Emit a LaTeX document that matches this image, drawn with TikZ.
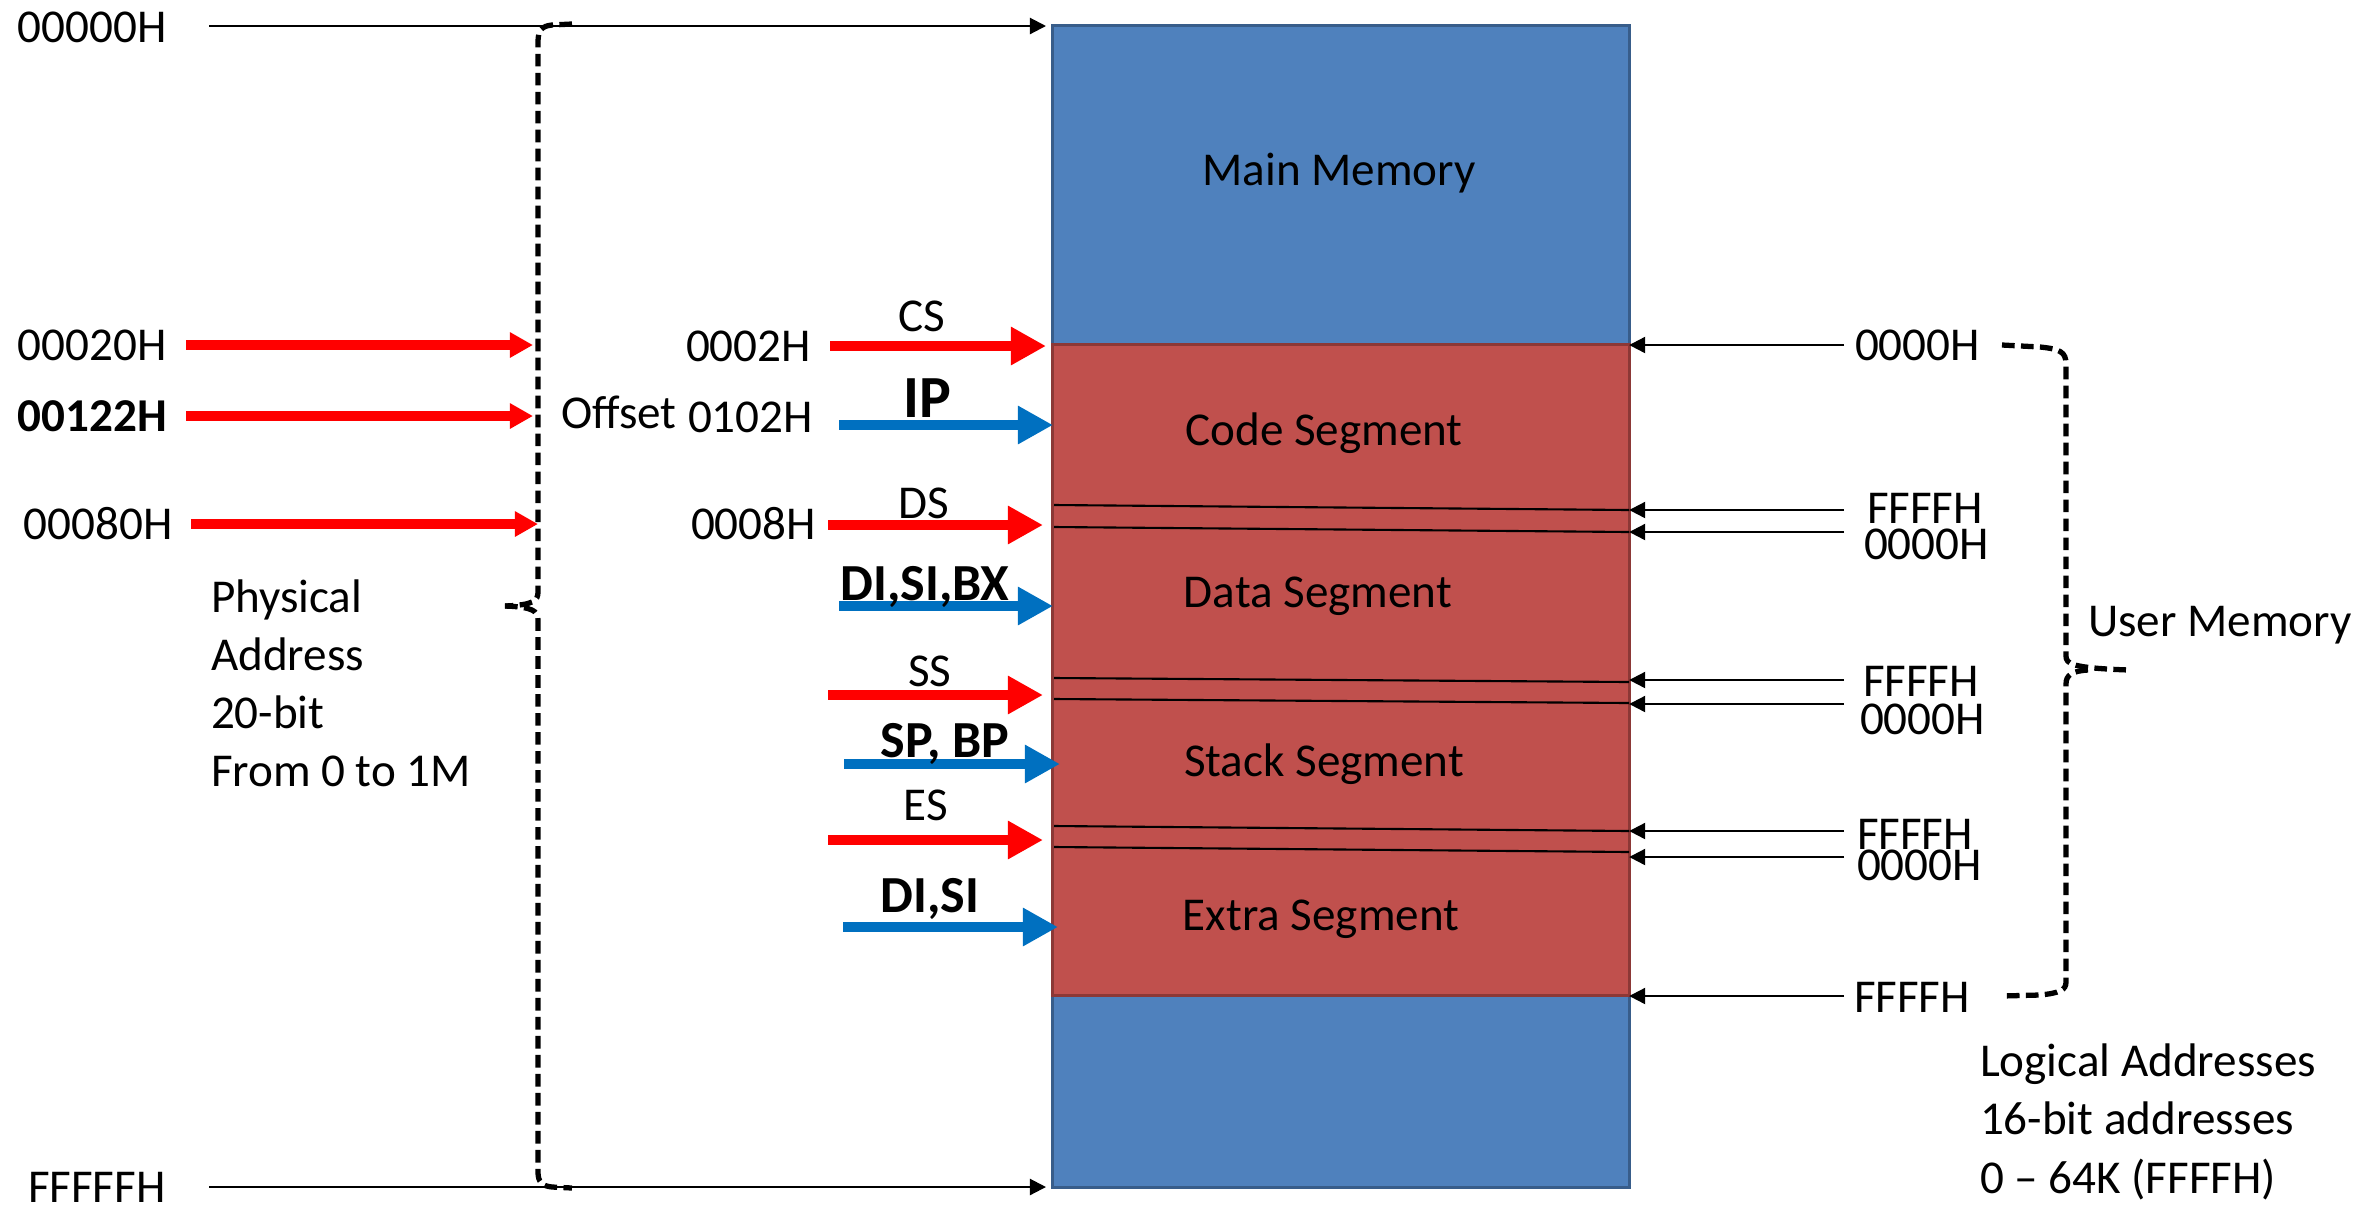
\documentclass[tikz,border=0pt]{standalone}
\usepackage{fontspec}
\setmainfont{Carlito}
\usetikzlibrary{arrows.meta}
\definecolor{memblue}{HTML}{4F81BD}
\definecolor{memblueline}{HTML}{385D8A}
\definecolor{segred}{HTML}{C0504D}
\definecolor{segredline}{HTML}{8C3836}
\definecolor{regred}{HTML}{FF0000}
\definecolor{regblue}{HTML}{0070C0}
\begin{document}
\begin{tikzpicture}[x=0.01cm,y=-0.01cm,
  txt/.style={font=\fontsize{13.4pt}{16.4pt}\selectfont, inner sep=0pt, outer sep=0pt},
  btxt/.style={font=\fontsize{14.8pt}{17pt}\selectfont\bfseries, inner sep=0pt, outer sep=0pt},
  iptxt/.style={font=\fontsize{17pt}{19pt}\selectfont\bfseries, inner sep=0pt, outer sep=0pt},
  memblock/.style={rectangle, inner sep=0pt, outer sep=0pt, line width=0.9pt, minimum width=5.76cm},
  thinarrow/.style={line width=0.6pt, -{Triangle[length=1.6mm,width=1.6mm]}},
  addrarrow/.style={line width=2.7pt, -{Triangle[length=2.3mm,width=2.4mm]}},
  regarrow/.style={line width=3.1pt, -{Triangle[length=3.5mm,width=3.6mm]}},
  bracestyle/.style={line width=1.5pt, dash pattern=on 3.6pt off 1.8pt},
  sepline/.style={line width=0.6pt}
]
\useasboundingbox (0,0) rectangle (2365,1205);

% memory column and the user segment area
\node[memblock, fill=memblue, draw=memblueline, minimum height=11.61cm] (mem) at (1341,606.5) {};
\node[memblock, fill=segred, draw=segredline, minimum height=6.5cm] (seg) at (1341,670) {};

% boundaries between the segments
\draw[sepline] (1054,505) -- (1629,510);
\draw[sepline] (1054,527) -- (1629,532);
\draw[sepline] (1054,678) -- (1629,682);
\draw[sepline] (1054,699) -- (1629,703);
\draw[sepline] (1054,826) -- (1629,831);
\draw[sepline] (1054,847) -- (1629,852);

% segment names
\node[txt, anchor=base] (mainmem) at (1339,185) {Main Memory};
\node[txt, anchor=base] (codeseg) at (1324,445) {Code Segment};
\node[txt, anchor=base] (dataseg) at (1318,607) {Data Segment};
\node[txt, anchor=base] (stackseg) at (1324,776) {Stack Segment};
\node[txt, anchor=base] (extraseg) at (1321,930) {Extra Segment};

% physical addresses on the left
\node[txt, anchor=base west] (p0) at (18,42) {00000H};
\node[txt, anchor=base west] (p20) at (18,360) {00020H};
\node[txt, anchor=base west, font=\fontsize{13.4pt}{16.4pt}\selectfont\bfseries] (p122) at (18,431) {00122H};
\node[txt, anchor=base west] (p80) at (24,539) {00080H};
\node[txt, anchor=base west] (pf) at (28,1202) {FFFFFH};
% multi-line node: base anchor sits on the last line
\node[txt, anchor=base west, align=left] (phys) at (211,786) {Physical\\Address\\20-bit\\From 0 to 1M};

\coordinate (top0) at (209,26);
\coordinate (top1) at (1046,26);
\coordinate (bot0) at (209,1187);
\coordinate (bot1) at (1046,1187);
\draw[thinarrow] (top0) -- (top1);
\draw[thinarrow] (bot0) -- (bot1);

\coordinate (a20s) at (186,345);  \coordinate (a20e) at (533,345);
\coordinate (a122s) at (186,416); \coordinate (a122e) at (533,416);
\coordinate (a80s) at (191,524);  \coordinate (a80e) at (538,524);
\draw[addrarrow, regred] (a20s) -- (a20e);
\draw[addrarrow, regred] (a122s) -- (a122e);
\draw[addrarrow, regred] (a80s) -- (a80e);

% brace spanning the whole physical range
\coordinate (lbtip) at (505,606);
\draw[bracestyle] (572,24) -- (552,25) .. controls (542,26) and (538,30) .. (538,42)
  -- (538,592) .. controls (538,601) and (533,605) .. (lbtip);
\draw[bracestyle] (lbtip) .. controls (533,607) and (538,611) .. (538,620)
  -- (538,1172) .. controls (538,1182) and (542,1186) .. (552,1187) -- (572,1188);

% segment and offset values
\node[txt, anchor=base west] (cs0) at (686,361) {0002H};
\node[txt, anchor=base west] (offs) at (561,428) {Offset};
\node[txt, anchor=base west] (ip0) at (688,432) {0102H};
\node[txt, anchor=base west] (ds0) at (691,539) {0008H};

% segment registers (red) and offset registers (blue)
\coordinate (csS) at (830,346); \coordinate (csE) at (1046,346);
\coordinate (ipS) at (839,425); \coordinate (ipE) at (1053,425);
\coordinate (dsS) at (828,525); \coordinate (dsE) at (1043,525);
\coordinate (dxS) at (839,606); \coordinate (dxE) at (1053,606);
\coordinate (ssS) at (828,695); \coordinate (ssE) at (1043,695);
\coordinate (spS) at (844,764); \coordinate (spE) at (1060,764);
\coordinate (esS) at (828,840); \coordinate (esE) at (1043,840);
\coordinate (diS) at (843,927); \coordinate (diE) at (1058,927);
\draw[regarrow, regred] (csS) -- (csE);
\draw[regarrow, regblue] (ipS) -- (ipE);
\draw[regarrow, regred] (dsS) -- (dsE);
\draw[regarrow, regblue] (dxS) -- (dxE);
\draw[regarrow, regred] (ssS) -- (ssE);
\draw[regarrow, regblue] (spS) -- (spE);
\draw[regarrow, regred] (esS) -- (esE);
\draw[regarrow, regblue] (diS) -- (diE);

\node[txt, anchor=base] (csl) at (922,331) {CS};
\node[iptxt, anchor=base] (ipl) at (927,417) {IP};
\node[txt, anchor=base] (dsl) at (924,518) {DS};
\node[btxt, anchor=base] (dxl) at (925,600) {DI,SI,BX};
\node[txt, anchor=base] (ssl) at (930,686) {SS};
\node[btxt, anchor=base] (spl) at (945,757) {SP, BP};
\node[txt, anchor=base] (esl) at (926,820) {ES};
\node[btxt, anchor=base] (dil) at (930,912) {DI,SI};

% logical addresses on the right
\foreach \n/\y in {r1/345, r2/510, r3/532, r4/680, r5/704, r6/831, r7/857, r8/996}{
  \coordinate (\n) at (1844,\y);
  \draw[thinarrow] (\n) -- (\n -| seg.east);
}
\node[txt, anchor=base west] (l1) at (1855,360) {0000H};
\node[txt, anchor=base west] (l2) at (1867,523) {FFFFH};
\node[txt, anchor=base west] (l3) at (1864,559) {0000H};
\node[txt, anchor=base west] (l4) at (1863,696) {FFFFH};
\node[txt, anchor=base west] (l5) at (1860,734) {0000H};
\node[txt, anchor=base west] (l6) at (1857,849) {FFFFH};
\node[txt, anchor=base west] (l7) at (1857,880) {0000H};
\node[txt, anchor=base west] (l8) at (1854,1012) {FFFFH};

% brace for the user memory
\coordinate (rbtip) at (2129,670);
\draw[bracestyle] (2002,345) -- (2040,347) .. controls (2060,349) and (2066,352) .. (2066,364)
  -- (2066,656) .. controls (2066,664) and (2072,668) .. (rbtip);
\draw[bracestyle] (2088,670) .. controls (2072,671) and (2066,675) .. (2066,684)
  -- (2066,982) .. controls (2066,990) and (2060,993) .. (2040,995) -- (2002,996);

\node[txt, anchor=base west] (usermem) at (2088,636) {User Memory};
\node[txt, anchor=base west, align=left, font=\fontsize{13.4pt}{16.5pt}\selectfont] (logical) at (1980,1193)
  {Logical Addresses\\16-bit addresses\\0 – 64K (FFFFH)};
\end{tikzpicture}
\end{document}
